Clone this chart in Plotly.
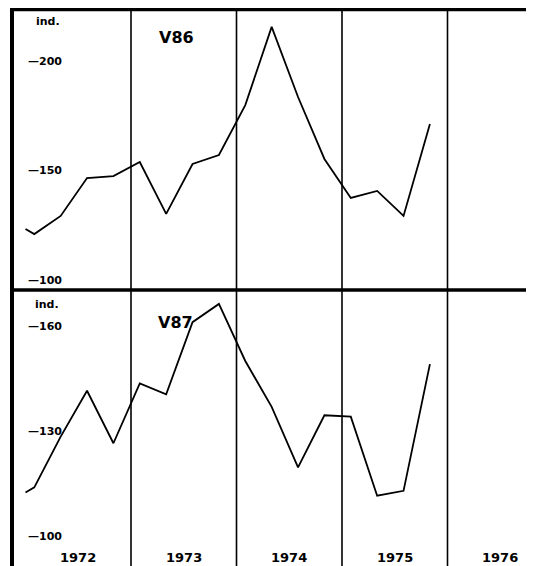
import plotly.graph_objects as go

# months since Jan 1972 at which observations were made
months = [0, 1, 4, 7, 10, 13, 16, 19, 22, 25, 28, 31, 34, 37, 40, 43, 46]
v86 = [123.5, 121.2, 129.5, 146.8, 147.7, 154.1, 130.4, 153.2, 157.3, 180.1,
       215.8, 183.8, 155.5, 137.7, 140.9, 129.5, 171.5]
v87 = [112.6, 114.1, 128.6, 141.7, 126.7, 143.8, 140.7, 161.3, 166.5, 150.2,
       137.1, 119.8, 134.7, 134.3, 111.7, 113.1, 149.3]
years = [1972, 1973, 1974, 1975, 1976]
top_ticks = [100, 150, 200]
bot_ticks = [100, 130, 160]

x = [1972 + m / 12 for m in months]

# page has 8px body margin -> figure is 8px smaller and offset
OFF = 8
W, H = 534 - OFF, 566 - OFF
px_per_year = 105.5
x_lo = 1972 - (25.5 - 10) / px_per_year
x_hi = x_lo + (534 - 10) / px_per_year

def px(p):
    return (p - OFF) / W

def pf(p):
    return (H - (p - OFF)) / H

top_dom = [pf(290), pf(9)]
bot_dom = [0, pf(290)]

FONT = "DejaVu Sans"

fig = go.Figure()
fig.add_trace(go.Scatter(x=x, y=v86, mode="lines", line=dict(color="black", width=1.8),
                         xaxis="x", yaxis="y", showlegend=False, hoverinfo="skip"))
fig.add_trace(go.Scatter(x=x, y=v87, mode="lines", line=dict(color="black", width=1.8),
                         xaxis="x2", yaxis="y2", showlegend=False, hoverinfo="skip"))

ax_common = dict(showgrid=False, zeroline=False, showticklabels=False, ticks="",
                 showline=False, fixedrange=True)
fig.update_layout(
    width=W, height=H,
    margin=dict(l=0, r=0, t=0, b=0),
    paper_bgcolor="white", plot_bgcolor="white",
    xaxis=dict(domain=[px(10), 1], range=[x_lo, x_hi], anchor="y", **ax_common),
    yaxis=dict(domain=top_dom, range=[150 - 119 / 2.19, 150 + 162 / 2.19], anchor="x", **ax_common),
    xaxis2=dict(domain=[px(10), 1], range=[x_lo, x_hi], anchor="y2", **ax_common),
    yaxis2=dict(domain=bot_dom, range=[130 - 134.3 / 3.5, 130 + 141.7 / 3.5], anchor="x2", **ax_common),
)

shapes = []
# year separators
for yr in years[1:]:
    shapes.append(dict(type="line", xref="x", yref="paper", x0=yr, x1=yr,
                       y0=0, y1=pf(9), line=dict(color="black", width=1.6)))
# borders
shapes.append(dict(type="line", xref="paper", yref="paper", x0=px(12), x1=px(12),
                   y0=0, y1=1, line=dict(color="black", width=4)))
shapes.append(dict(type="line", xref="paper", yref="paper", x0=px(10), x1=1,
                   y0=pf(9.5), y1=pf(9.5), line=dict(color="black", width=3.5)))
shapes.append(dict(type="line", xref="paper", yref="paper", x0=px(10), x1=1,
                   y0=pf(290), y1=pf(290), line=dict(color="black", width=3.5)))
fig.update_layout(shapes=shapes)

ann = []
for t in top_ticks:
    ann.append(dict(x=px(26), y=t, xref="paper", yref="y", text="<b>\u2014" + str(t) + "</b>",
                    showarrow=False, xanchor="left", yanchor="middle",
                    font=dict(family=FONT, size=11, color="black")))
for t in bot_ticks:
    ann.append(dict(x=px(26), y=t, xref="paper", yref="y2", text="<b>\u2014" + str(t) + "</b>",
                    showarrow=False, xanchor="left", yanchor="middle",
                    font=dict(family=FONT, size=11, color="black")))
ann.append(dict(x=px(34), y=pf(21), xref="paper", yref="paper", text="<b>ind.</b>",
                showarrow=False, xanchor="left", yanchor="middle",
                font=dict(family=FONT, size=11, color="black")))
ann.append(dict(x=px(33), y=pf(304), xref="paper", yref="paper", text="<b>ind.</b>",
                showarrow=False, xanchor="left", yanchor="middle",
                font=dict(family=FONT, size=11, color="black")))
ann.append(dict(x=px(157), y=pf(38), xref="paper", yref="paper", text="<b>V86</b>",
                showarrow=False, xanchor="left", yanchor="middle",
                font=dict(family=FONT, size=16, color="black")))
ann.append(dict(x=px(156), y=pf(323), xref="paper", yref="paper", text="<b>V87</b>",
                showarrow=False, xanchor="left", yanchor="middle",
                font=dict(family=FONT, size=16, color="black")))
for yr in years:
    ann.append(dict(x=yr + 0.5, y=pf(557), xref="x2", yref="paper", text="<b>" + str(yr) + "</b>",
                    showarrow=False, xanchor="center", yanchor="middle",
                    font=dict(family=FONT, size=13, color="black")))
fig.update_layout(annotations=ann)

fig.write_html("out.html")
